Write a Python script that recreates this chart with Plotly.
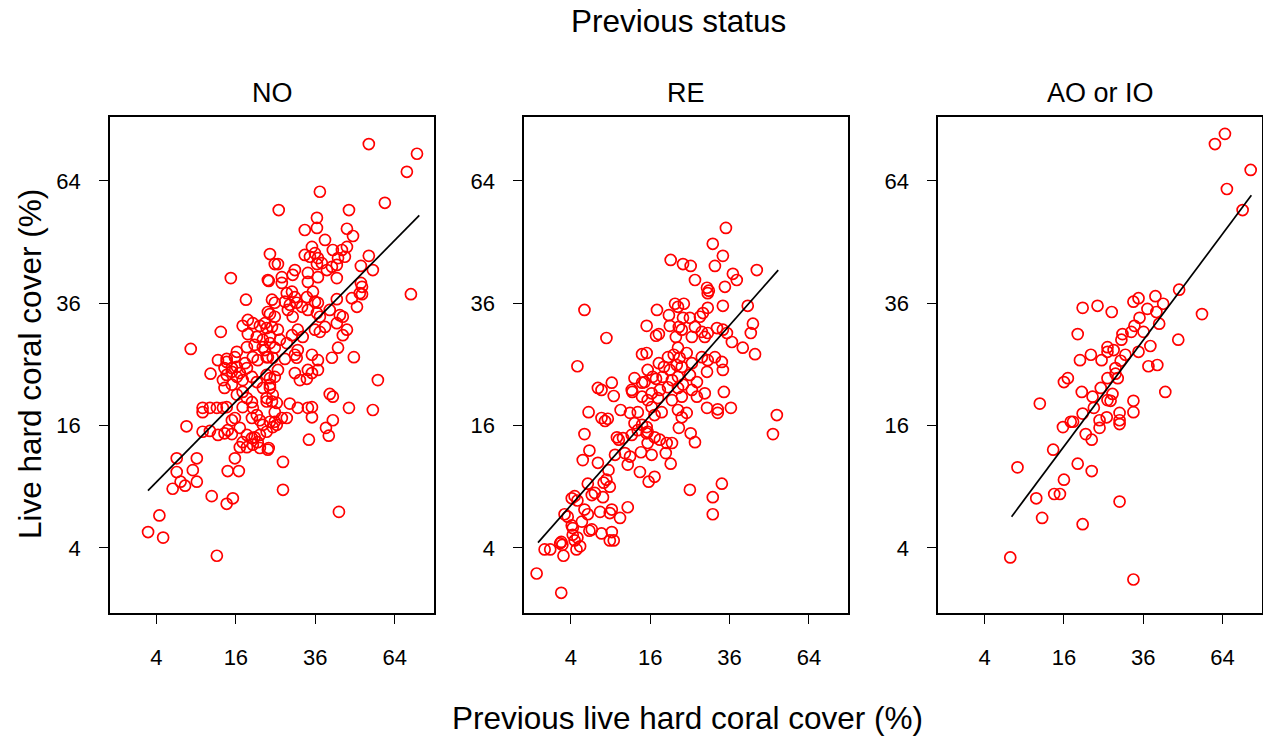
import numpy as np
import plotly.graph_objects as go

# ---------------- data (percent cover) ----------------
no_prev = [23.6,24.8,15.0,23.3,18.1,24.8,23.6,18.5,13.1,17.4,19.6,21.2,22.8,18.5,20.5,21.9,23.6,8.2,12.6,14.2,
           15.8,16.2,18.3,20.0,21.9,19.6,20.7,22.8,24.3,17.9,54.0,73.3,69.0,37.4,25.8,46.9,60.1,36.5,32.9,36.5,
           46.2,48.3,39.0,35.0,32.9,34.4,35.9,36.8,41.5,44.5,46.2,45.5,43.2,42.8,41.2,39.6,54.0,51.1,55.5,25.6,
           30.1,29.5,36.5,38.0,23.1,26.6,26.6,33.8,36.8,33.8,42.8,51.1,51.5,50.7,70.7,27.9,29.3,30.1,27.4,28.7,
           30.6,28.2,32.1,29.5,33.5,35.3,35.9,36.8,33.8,40.5,42.8,47.9,49.7,51.5,24.1,23.1,24.8,22.4,24.1,25.6,
           36.5,37.4,43.8,44.8,42.8,46.2,44.8,39.0,35.9,37.4,30.9,29.3,32.3,26.1,27.9,23.6,24.8,30.9,30.1,30.6,
           35.0,36.8,41.2,43.2,48.6,22.4,23.1,57.4,40.5,41.5,46.9,55.5,41.5,39.3,40.2,34.1,26.9,26.9,43.5,23.3,
           35.0,33.8,35.0,30.9,28.7,25.3,24.1,22.8,24.3,23.6,24.8,25.6,23.6,26.6,24.8,25.3,27.9,30.1,31.5,33.5,
           33.8,35.0,36.8,27.4,7.6,11.3,6.3,9.1,6.3,8.5,6.8,7.4,9.1,5.8,11.5,14.2,15.4,14.4,16.6,15.8,
           4.3,3.2,4.7,12.4,10.0,10.0,11.2,12.4,13.5,14.2,10.0,11.2,12.6,13.8,15.2,14.4,15.2,15.8,16.8,18.3,
           19.4,20.0,20.7,21.2,17.4,16.8,18.3,19.6,16.2,17.4,18.3,19.4,17.4,19.6,20.5,19.4,21.2,21.9,23.6,22.8,
           23.1,21.2,13.8,15.2,13.5,14.2,15.2,16.2,16.8,14.2,13.8,15.2,16.2,18.3,17.4,19.4,20.5,22.8,23.6,21.9,
           22.8,24.8,24.3]
no_curr = [46.3,44.1,41.1,40.5,36.7,36.1,33.9,32.8,30.6,31.7,32.2,31.7,31.3,30.2,29.7,29.2,29.7,27.6,25.7,25.9,
           26.2,27.1,27.9,28.3,27.9,26.2,25.7,26.2,26.1,25.2,74.0,71.3,66.4,61.2,56.6,56.6,58.4,54.7,51.8,52.3,
           52.1,50.4,49.5,47.9,46.1,45.7,46.5,45.4,47.2,47.2,47.9,45.7,45.4,43.9,43.5,42.8,45.9,43.7,42.8,44.1,
           42.8,41.8,44.1,44.3,40.7,41.3,40.1,42.2,41.3,40.3,41.1,40.1,39.3,38.0,37.8,38.0,38.3,37.2,36.3,35.7,
           36.1,34.7,35.3,33.4,37.2,38.3,36.3,36.1,34.7,34.7,36.8,37.0,35.3,37.8,36.7,34.3,33.4,32.2,31.5,31.0,
           34.1,33.4,33.7,33.4,32.2,31.0,30.0,31.5,31.0,30.6,31.0,30.0,29.7,29.2,28.6,28.6,27.8,27.4,26.6,26.1,
           26.6,25.7,26.1,27.8,26.2,27.4,26.2,22.5,20.4,20.0,18.4,18.1,16.7,15.7,14.7,14.2,11.6,8.7,6.7,13.2,
           18.5,18.4,17.1,18.4,19.0,19.1,19.3,19.3,20.3,21.3,23.0,24.1,22.8,17.0,16.5,16.1,17.0,23.6,22.5,22.7,
           24.1,23.6,24.1,25.9,15.9,23.5,12.0,12.0,10.5,10.7,9.5,9.1,9.5,8.8,8.1,7.4,7.9,10.6,10.6,12.0,
           6.4,5.1,4.7,3.5,18.4,17.8,18.4,18.4,18.4,18.5,15.2,15.3,14.8,15.0,14.9,15.4,16.7,17.0,15.7,14.8,
           14.4,14.5,13.9,14.8,13.9,13.3,13.3,13.6,20.3,20.7,19.8,19.2,18.5,18.4,17.4,17.0,16.7,16.1,16.5,15.2,
           13.0,13.2,21.3,21.8,22.5,23.3,23.8,23.0,23.6,25.4,24.4,24.4,24.6,24.4,22.5,23.0,22.2,23.3,21.8,21.3,
           19.8,17.8,15.8]

re_prev = [34.9,31.1,34.0,31.7,23.3,25.2,44.7,37.0,38.2,26.3,34.6,29.5,29.7,30.0,34.0,41.7,29.7,23.5,22.1,28.4,
           27.6,25.0,23.3,43.4,42.7,32.3,34.0,35.2,29.7,28.9,28.1,25.5,23.0,26.3,36.7,40.1,44.1,31.7,33.7,29.7,
           28.1,24.2,22.5,25.5,34.0,29.5,26.8,25.0,34.3,25.5,26.8,28.9,29.5,32.5,32.5,36.4,24.2,22.1,51.7,50.3,
           22.3,25.2,26.3,25.0,33.7,31.1,31.1,20.4,5.5,17.4,21.4,20.0,15.3,20.2,22.3,8.4,17.2,17.8,21.6,22.1,
           14.4,15.3,19.8,21.1,17.8,18.9,20.2,21.8,23.0,4.7,15.5,13.0,16.5,17.2,18.6,20.7,22.1,9.2,7.2,7.7,
           12.5,12.6,14.4,14.9,18.0,16.3,19.8,22.1,23.3,9.5,14.4,15.5,17.6,20.7,23.0,6.0,7.7,8.6,10.6,12.2,
           13.6,16.3,18.4,16.9,23.0,8.2,5.5,13.0,14.4,13.6,15.3,15.5,10.0,10.3,11.0,12.5,15.3,16.9,18.0,19.5,
           20.7,6.1,5.3,7.2,9.7,11.3,12.2,11.8,14.2,15.5,16.3,19.3,20.4,14.0,16.9,15.7,8.7,8.4,8.9,8.0,
           5.9,6.8,6.4,7.9,4.4,4.7,4.1,11.8,3.4,3.7,5.5,5.9,7.5,8.9,9.2,10.5,5.2,4.1,4.2,6.4,
           7.7,6.1,9.2,8.9,9.5,4.2,4.7,4.4,5.0,4.6,3.1,3.2,3.0,1.8,2.2,3.3,1.3,3.1]
re_curr = [52.3,48.6,45.9,43.7,44.1,43.7,42.8,42.0,40.7,40.7,39.3,39.1,38.0,38.5,35.5,35.5,35.1,35.9,35.3,34.1,
           33.4,33.2,33.2,32.1,30.4,31.3,31.0,30.4,30.4,29.7,30.6,29.7,31.0,31.5,28.8,27.8,26.7,26.2,25.4,25.7,
           26.2,26.9,26.1,25.2,24.1,23.8,22.2,23.3,20.7,21.0,20.0,20.5,18.4,18.2,17.7,18.4,17.7,18.1,17.4,14.9,
           15.7,15.0,13.9,8.7,9.3,8.0,6.5,45.0,34.7,34.7,35.9,33.7,31.7,31.7,31.5,29.5,29.9,30.2,29.7,27.8,
           26.7,26.9,26.2,26.6,25.2,24.6,24.1,24.9,24.6,24.7,24.1,22.8,23.0,22.7,23.0,22.5,23.0,22.1,21.3,21.0,
           21.0,20.7,22.1,22.2,21.0,20.5,21.4,21.3,21.8,20.1,20.0,19.5,19.8,19.5,20.0,17.8,17.0,16.9,18.1,17.7,
           17.8,18.5,17.8,17.4,17.1,16.6,14.9,16.3,16.1,15.4,15.8,15.2,14.5,14.2,14.4,14.8,15.0,14.5,14.2,13.8,
           13.8,12.9,11.8,11.5,12.4,12.6,12.2,11.3,12.7,13.8,12.4,12.6,11.4,10.5,10.0,9.5,10.7,9.7,9.0,9.4,
           9.3,8.4,8.2,8.0,8.1,7.7,7.9,7.1,6.5,6.3,6.9,6.5,6.7,6.6,6.9,6.2,5.9,5.6,5.4,5.3,
           5.0,5.2,5.1,4.5,4.5,4.9,4.7,4.5,4.1,3.9,4.4,4.2,4.3,3.9,3.9,3.5,2.5,1.6]

ao_prev = [65.0,61.0,75.9,65.8,72.4,47.7,23.5,20.0,27.1,34.6,33.1,39.8,42.3,37.3,40.1,34.9,41.0,56.0,33.4,30.0,
           32.5,36.1,29.7,47.4,38.2,26.0,27.6,26.0,34.6,30.8,21.9,18.9,19.4,24.5,29.5,37.6,40.4,28.1,16.0,16.8,
           26.0,28.1,28.7,19.8,22.3,24.3,27.3,26.0,26.8,43.0,33.1,11.5,22.6,20.0,29.2,33.1,25.8,24.0,29.2,29.2,
           15.8,17.4,17.9,24.0,20.7,22.1,13.9,8.0,18.9,22.1,16.0,10.9,14.1,15.2,29.2,11.9,20.0,7.0,33.1]
ao_curr = [76.9,74.0,66.9,61.9,56.6,38.7,35.5,35.1,34.3,37.0,36.3,37.4,35.9,34.9,34.3,33.2,32.1,33.9,31.7,30.2,
           30.6,30.6,29.2,29.2,28.1,27.9,27.4,27.1,27.1,26.6,26.6,30.2,25.7,25.7,25.6,24.7,24.9,24.4,22.2,22.8,
           22.8,23.5,22.8,20.7,20.0,21.3,20.4,19.5,19.4,20.7,19.4,19.0,18.4,17.6,17.7,17.8,17.1,16.7,16.7,16.2,
           15.8,16.5,16.5,15.7,14.9,14.2,13.0,11.0,11.4,10.6,9.7,7.9,8.3,8.3,7.6,6.2,5.7,3.4,2.2]

# fitted regression lines (end points, percent cover)
fit_prev = {"NO": [3.19, 74.3], "RE": [1.38, 52.2], "AO or IO": [7.18, 76.2]}
fit_curr = {"NO": [8.62, 55.3], "RE": [4.35, 42.8], "AO or IO": [6.30, 60.3]}

panels = ["NO", "RE", "AO or IO"]
prev_data = [no_prev, re_prev, ao_prev]
curr_data = [no_curr, re_curr, ao_curr]

tick_vals = [4, 16, 36, 64]
tick_text = ["4", "16", "36", "64"]

# ---------------- figure ----------------
W, H = 1263, 740
FONT = "Liberation Sans, Arial, sans-serif"
x_domains = [(110, 434), (524.3, 848.3), (938.3, 1261.7)]
y_dom = (1 - 612.7 / H, 1 - 116.7 / H)

fig = go.Figure()
for i, name in enumerate(panels):
    xa = "x" if i == 0 else f"x{i+1}"
    ya = "y" if i == 0 else f"y{i+1}"
    fig.add_trace(go.Scatter(
        x=np.sqrt(prev_data[i]), y=np.sqrt(curr_data[i]), mode="markers",
        marker=dict(symbol="circle-open", size=11, color="#ff0000", line=dict(width=1.7, color="#ff0000")),
        xaxis=xa, yaxis=ya, showlegend=False, hoverinfo="skip"))
    fig.add_trace(go.Scatter(
        x=np.sqrt(fit_prev[name]), y=np.sqrt(fit_curr[name]), mode="lines",
        line=dict(color="black", width=1.7), xaxis=xa, yaxis=ya,
        showlegend=False, hoverinfo="skip"))

axis_common = dict(showline=True, linecolor="black", linewidth=1.7, mirror=True,
                   ticks="outside", ticklen=9, tickwidth=1.3, tickcolor="black",
                   showgrid=False, zeroline=False, automargin=False,
                   tickfont=dict(family=FONT, size=22, color="black"))

layout = dict(width=W, height=H, margin=dict(l=0, r=0, t=0, b=0),
              paper_bgcolor="white", plot_bgcolor="white",
              font=dict(family=FONT, color="black"))
for i, name in enumerate(panels):
    sfx = "" if i == 0 else str(i + 1)
    x0, x1 = x_domains[i]
    layout["xaxis" + sfx] = dict(axis_common, domain=[x0 / W, x1 / W], range=[0.83, 8.99],
                                 tickvals=np.sqrt(tick_vals), ticktext=tick_text,
                                 anchor="y" + sfx, ticklabelstandoff=15)
    layout["yaxis" + sfx] = dict(axis_common, domain=list(y_dom), range=[0.94, 9.05],
                                 tickvals=np.sqrt(tick_vals), ticktext=tick_text,
                                 anchor="x" + sfx, ticklabelstandoff=14)
fig.update_layout(**layout)

ann = []
for i, name in enumerate(panels):
    x0, x1 = x_domains[i]
    ann.append(dict(text=name, x=(x0 + x1) / 2 / W, y=1 - 93 / H, xref="paper", yref="paper",
                    showarrow=False, xanchor="center", yanchor="middle",
                    font=dict(family=FONT, size=27, color="black")))
ann.append(dict(text="Previous status", x=678 / W, y=1 - 21 / H, xref="paper", yref="paper",
                showarrow=False, xanchor="center", yanchor="middle",
                font=dict(family=FONT, size=31.5, color="black")))
ann.append(dict(text="Previous live hard coral cover (%)", x=687 / W, y=1 - 718 / H,
                xref="paper", yref="paper", showarrow=False, xanchor="center", yanchor="middle",
                font=dict(family=FONT, size=31.5, color="black")))
ann.append(dict(text="Live hard coral cover (%)", x=30 / W, y=1 - 364 / H, textangle=-90,
                xref="paper", yref="paper", showarrow=False, xanchor="center", yanchor="middle",
                font=dict(family=FONT, size=31.5, color="black")))
fig.update_layout(annotations=ann)

fig.write_html("out.html")
